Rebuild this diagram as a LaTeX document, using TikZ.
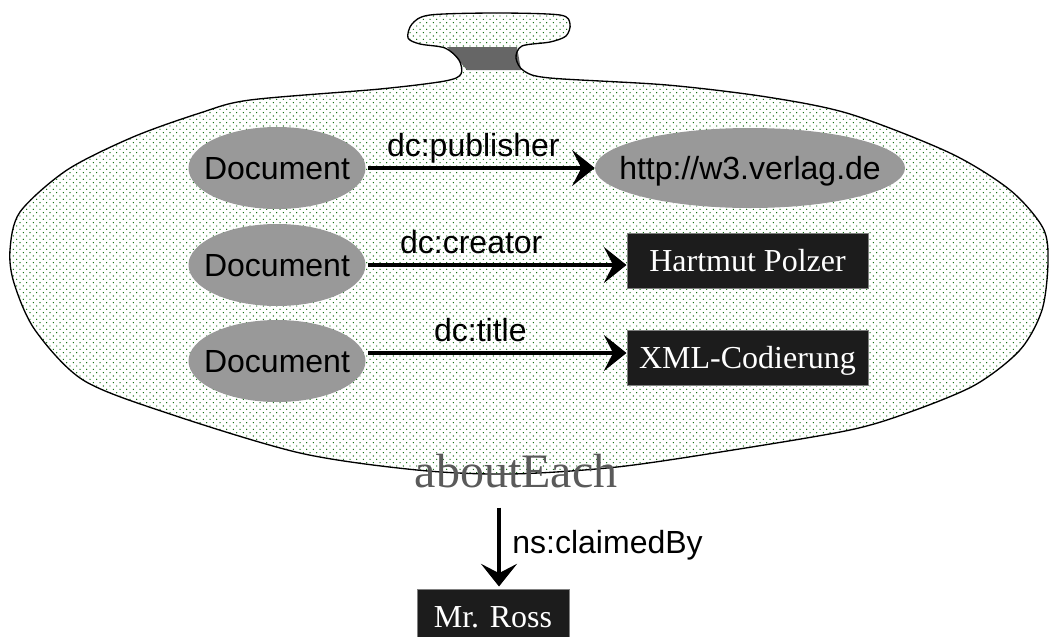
\documentclass[tikz,border=0pt]{standalone}
\usepackage{fontspec}
\setmainfont{Liberation Serif}
\setsansfont{Liberation Sans}
\usetikzlibrary{shapes.geometric,arrows.meta,patterns}
\definecolor{docgray}{HTML}{999999}
\definecolor{boxblack}{HTML}{1C1C1C}
\definecolor{boxborder}{HTML}{808080}
\definecolor{neckgray}{HTML}{666666}
\definecolor{dotgreen}{RGB}{0,100,0}
\definecolor{aegray}{HTML}{5A5A5A}
\pgfdeclarepatternformonly{gdots}{\pgfqpoint{-1pt}{-1pt}}{\pgfqpoint{4pt}{4pt}}{\pgfqpoint{5pt}{5pt}}{%
  \pgfpathcircle{\pgfqpoint{0pt}{0pt}}{0.5pt}%
  \pgfpathcircle{\pgfqpoint{2.5pt}{2.5pt}}{0.5pt}%
  \pgfusepath{fill}}
\tikzset{
  doc/.style={ellipse, fill=docgray, minimum width=132.75pt, minimum height=61.5pt, inner sep=0pt,
    font=\sffamily\fontsize{24}{28}\selectfont, text height=17pt, text depth=0pt},
  lit/.style={rectangle, fill=boxblack, draw=boxborder, line width=0.75pt, minimum width=180.75pt,
    minimum height=41.25pt, inner sep=0pt, text=white, font=\fontsize{24}{28}\selectfont,
    text height=17pt, text depth=0pt},
  lbl/.style={font=\sffamily\fontsize{24}{28}\selectfont, inner sep=0pt},
  arr/.style={line width=3.6pt, -{Stealth[length=17pt,width=27pt,inset=7pt]}},
}
\begin{document}
\begin{tikzpicture}[x=0.75pt,y=-0.75pt]
\useasboundingbox (0,0) rectangle (1049,636);
\def\blob{plot[smooth cycle, tension=0.5] coordinates {
 (430,15) (497,13) (560,15) (570,24) (566,36) (550,42) (522,46) (516,58) (524,71) (550,78)
 (667,85) (767,97) (850,114) (950,153) (1010,190) (1043,228) (1048,262) (1042,310) (1020,350)
 (975,385) (910,412) (850,430) (733,450) (617,467) (510,474) (417,470) (300,453) (167,413)
 (83,380) (35,330) (14,283) (10,250) (20,212) (67,170) (133,137) (200,113) (250,100) (380,89)
 (445,81) (461,74) (459,60) (445,48) (420,44) (408,38) (412,24)}}
\fill[white] \blob;
\fill[pattern=gdots, pattern color=dotgreen] \blob;
\fill[neckgray] (447,47) -- (517,47) -- (521,70) -- (467,70) -- cycle;
\draw[line width=1pt] \blob;

\node[doc] (d1) at (277,168) {\makebox[0pt]{Document}};
\node[doc] (d2) at (277,265) {\makebox[0pt]{Document}};
\node[doc] (d3) at (277,361) {\makebox[0pt]{Document}};
\node[doc, minimum width=232.5pt, minimum height=60pt] (http) at (750,168) {\makebox[0pt]{http://w3.verlag.de}};
\node[lit] (hp) at (747.5,260.5) {Hartmut Polzer};
\node[lit] (xml) at (747.5,357.5) {XML-Codierung};
\node[lit, minimum width=114pt] (ross) at (493,616.5) {Mr. Ross};
\node[font=\fontsize{36}{40}\selectfont, text=aegray, inner sep=0pt, anchor=base] (ae) at (516,487) {aboutEach};
\coordinate (aes) at ([xshift=-12.75pt,yshift=-15pt]ae.south);

\draw[arr] ([xshift=1.5pt]d1.east) -- (http.west)
  node[lbl, pos=0.465, anchor=base, yshift=9pt] {dc:publisher};
\draw[arr] ([xshift=1.5pt]d2.east) -- (d2.east -| hp.west)
  node[lbl, pos=0.40, anchor=base, yshift=9pt] {dc:creator};
\draw[arr] ([xshift=1.5pt,yshift=6pt]d3.east) -- ([yshift=6pt]d3.east -| xml.west)
  node[lbl, pos=0.435, anchor=base, yshift=9pt] {dc:title};
\draw[arr] (aes) -- ([yshift=1.5pt]aes |- ross.north)
  node[lbl, midway, anchor=base west, xshift=8.25pt, yshift=-5pt] {ns:claimedBy};
\end{tikzpicture}
\end{document}
